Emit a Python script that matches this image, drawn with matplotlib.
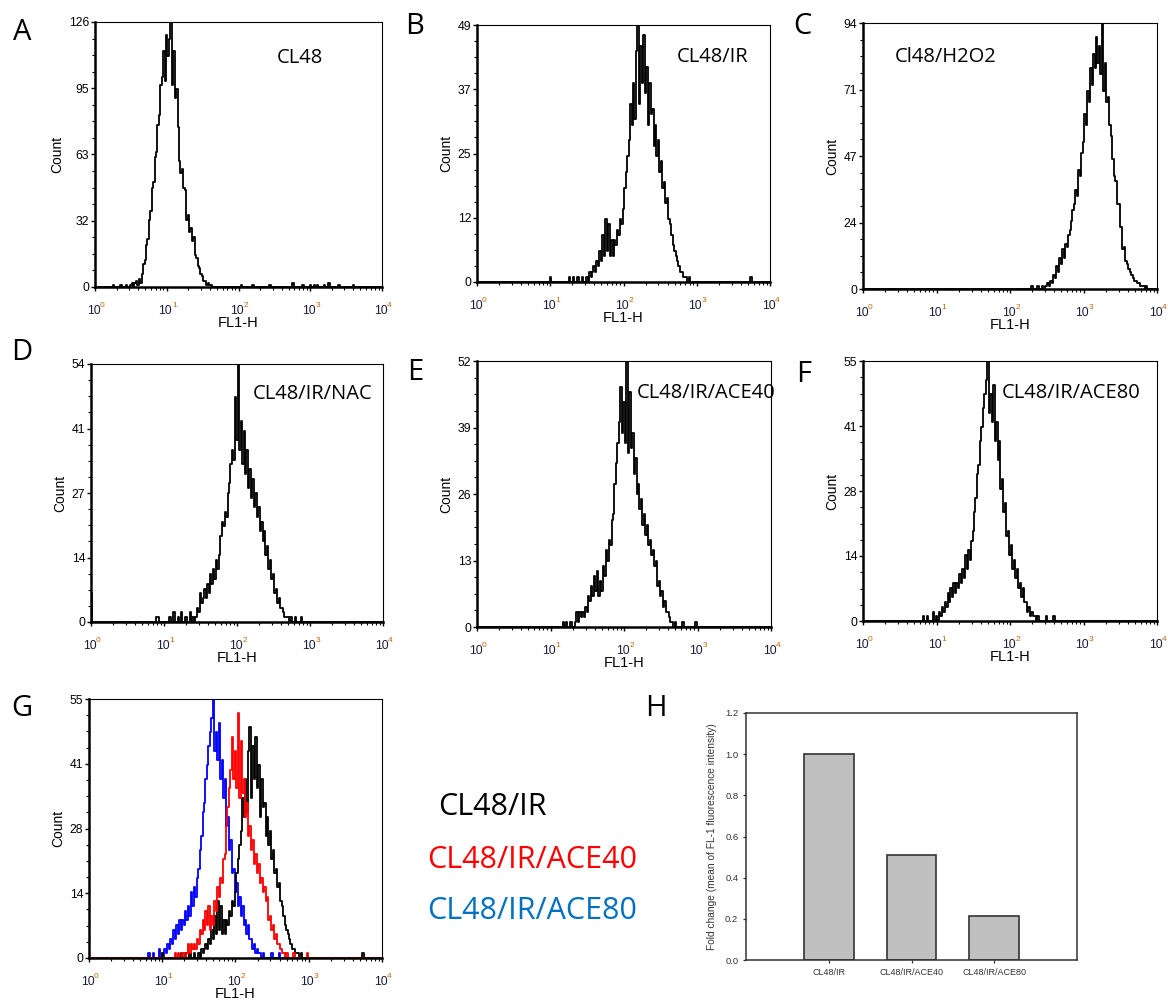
import numpy as np
import matplotlib
matplotlib.use("Agg")
import matplotlib.pyplot as plt
from matplotlib.ticker import MultipleLocator, LogLocator, NullFormatter

# ---------------- data ----------------
STEP = 0.02  # channel width in decades of FL1-H

A_start = 0.50
A_counts = [1, 2, 0, 2, 3, 1, 4, 2, 6, 11, 13, 20, 23, 32, 36, 47, 50, 62, 64, 77,
            82, 96, 100, 112, 98, 120, 110, 118, 126, 96, 112, 90, 94, 76, 60, 54, 56, 47, 46, 32,
            34, 26, 28, 22, 24, 15, 14, 10, 9, 6, 5, 3, 3, 1, 2, 1, 1, 0]
A_sp_pos = [0.26, 0.36, 0.44, 2.04, 2.2, 2.44, 2.76, 2.9, 3.0, 3.06, 3.1, 3.2, 3.26, 3.4, 3.6]
A_sp_n = [1, 1, 1, 1, 1, 1, 2, 1, 1, 1, 1, 1, 2, 1, 1]

B_start = 1.50
B_counts = [1, 0, 2, 1, 2, 3, 2, 4, 3, 6, 4, 9, 5, 12, 6, 11, 5, 8, 5, 8,
            7, 10, 9, 12, 11, 14, 18, 21, 24, 27, 34, 30, 38, 31, 44, 49, 34, 45, 38, 47,
            36, 41, 30, 38, 32, 33, 26, 30, 24, 27, 21, 23, 18, 19, 15, 16, 12, 11, 9, 7,
            6, 5, 4, 3, 2, 2, 1, 1, 1, 0, 1]
B_sp_pos = [1.0, 1.26, 1.32, 1.38, 1.44, 3.74]
B_sp_n = [1, 1, 1, 1, 1, 1]

C_start = 2.44
C_counts = [1, 0, 1, 1, 2, 1, 3, 2, 5, 4, 8, 6, 11, 9, 14, 11, 16, 15, 19, 21,
            24, 28, 30, 35, 33, 42, 40, 48, 52, 62, 58, 70, 66, 78, 72, 83, 78, 89, 80, 86,
            76, 94, 70, 80, 66, 68, 58, 54, 46, 40, 38, 30, 30, 22, 22, 14, 15, 10, 9, 7,
            6, 5, 4, 3, 3, 2, 2, 1, 1, 1, 0, 1]
C_sp_pos = [2.3, 2.38]
C_sp_n = [1, 1]

D_start = 1.44
D_counts = [1, 3, 2, 6, 4, 5, 7, 5, 8, 6, 10, 8, 11, 9, 13, 11, 14, 18, 21, 20,
            23, 22, 27, 29, 33, 36, 34, 47, 38, 54, 36, 42, 33, 40, 31, 36, 28, 32, 26, 30,
            24, 27, 22, 24, 19, 21, 17, 19, 14, 16, 11, 13, 9, 10, 6, 7, 4, 5, 3, 3,
            2, 1, 1, 1, 0, 1]
D_sp_pos = [0.0, 0.9, 0.92, 1.08, 1.14, 1.2, 1.24, 1.3, 1.36, 1.4, 2.8, 2.88]
D_sp_n = [6, 1, 1, 1, 2, 1, 2, 1, 2, 1, 1, 1]

E_start = 1.34
E_counts = [1, 3, 1, 3, 2, 3, 2, 4, 3, 6, 5, 8, 6, 10, 7, 11, 6, 9, 7, 12,
            10, 15, 13, 17, 16, 21, 22, 28, 32, 36, 40, 47, 38, 44, 36, 52, 34, 46, 35, 38,
            30, 33, 26, 28, 23, 25, 20, 22, 18, 20, 16, 17, 14, 15, 12, 13, 8, 9, 6, 7,
            4, 5, 3, 3, 2, 1, 1, 0, 1]
E_sp_pos = [1.18, 1.22, 1.28, 2.8, 2.98]
E_sp_n = [1, 1, 1, 1, 1]

F_start = 1.00
F_counts = [1, 0, 2, 1, 3, 2, 4, 3, 6, 4, 7, 5, 8, 6, 8, 7, 10, 8, 11, 9,
            14, 11, 15, 13, 17, 19, 23, 26, 31, 33, 38, 41, 45, 48, 51, 55, 44, 48, 42, 50,
            38, 42, 34, 38, 28, 30, 23, 25, 18, 19, 14, 16, 11, 13, 9, 11, 7, 8, 5, 7,
            4, 4, 2, 3, 1, 2, 1, 1, 0, 1]
F_sp_pos = [0.82, 0.88, 0.96, 2.5, 2.6]
F_sp_n = [1, 1, 2, 1, 1]

A_yt = ["0", "32", "63", "95", "126"]
B_yt = ["0", "12", "25", "37", "49"]
C_yt = ["0", "24", "47", "71", "94"]
D_yt = ["0", "14", "27", "41", "54"]
E_yt = ["0", "13", "26", "39", "52"]
F_yt = ["0", "14", "28", "41", "55"]
G_yt = ["0", "14", "28", "41", "55"]
A_ymax, B_ymax, C_ymax, D_ymax, E_ymax, F_ymax, G_ymax = 126, 49, 94, 54, 52, 55, 55

H_cats = ["CL48/IR", "CL48/IR/ACE40", "CL48/IR/ACE80"]
H_vals = [1.0, 0.51, 0.215]

legend_names = ["CL48/IR", "CL48/IR/ACE40", "CL48/IR/ACE80"]
panel_titles = ["CL48", "CL48/IR", "Cl48/H2O2", "CL48/IR/NAC", "CL48/IR/ACE40", "CL48/IR/ACE80"]

# ---------------- figure ----------------
W, H = 1168, 1006
fig = plt.figure(figsize=(W / 100, H / 100), dpi=100)
fig.patch.set_facecolor("white")

TXT = "Open Sans"
NUM = "Liberation Sans"
LW = 1.3


def rect(l, t, r, b):
    return [l / W, 1 - b / H, (r - l) / W, (b - t) / H]


def build(start, counts, sp_pos, sp_n):
    grid = np.round(np.arange(0, 4.0 + 1e-9, STEP), 2)
    y = np.zeros_like(grid)
    i0 = int(round(start / STEP))
    y[i0:i0 + len(counts)] = counts
    for p, n in zip(sp_pos, sp_n):
        y[int(round(p / STEP))] += n
    return 10 ** grid, y


def facs_axes(box, ymax, ylabels):
    ax = fig.add_axes(rect(*box))
    ax.set_xscale("log")
    ax.set_xlim(1, 1e4)
    ax.set_ylim(0, ymax)
    ax.set_yticks([ymax * i / 4 for i in range(5)])
    ax.set_yticklabels(ylabels, fontsize=8.8, family=NUM)
    ax.yaxis.set_minor_locator(MultipleLocator(ymax / 16))
    ax.set_xticks([1, 10, 100, 1000, 10000])
    ax.set_xticklabels([])
    ax.xaxis.set_minor_locator(LogLocator(base=10, subs=np.arange(2, 10)))
    ax.xaxis.set_minor_formatter(NullFormatter())
    ax.tick_params(axis="both", which="major", direction="out", length=3.2, width=1.0, pad=1)
    ax.tick_params(axis="both", which="minor", direction="out", length=2.2, width=0.8)
    for s in ["left", "bottom"]:
        ax.spines[s].set_linewidth(1.8)
    for s in ["top", "right"]:
        ax.spines[s].set_linewidth(0.8)
    ax.set_ylabel("Count", fontsize=10, family=NUM, labelpad=3)
    for k in range(5):
        ax.annotate("10", xy=(10 ** k, 0), xycoords=("data", "axes fraction"),
                    xytext=(-1, -17), textcoords="offset points", ha="center", va="center",
                    fontsize=8.8, family=NUM, color="#1c1c3c", annotation_clip=False)
        ax.annotate(str(k), xy=(10 ** k, 0), xycoords=("data", "axes fraction"),
                    xytext=(5.4, -13), textcoords="offset points", ha="center", va="center",
                    fontsize=6, family=NUM, color="#c8650f", annotation_clip=False)
    ax.annotate("FL1-H", xy=(0.5, 0), xycoords="axes fraction", xytext=(0, -26),
                textcoords="offset points", ha="center", va="center", fontsize=10.5,
                family=NUM, annotation_clip=False)
    return ax


hists = {
    "A": build(A_start, A_counts, A_sp_pos, A_sp_n),
    "B": build(B_start, B_counts, B_sp_pos, B_sp_n),
    "C": build(C_start, C_counts, C_sp_pos, C_sp_n),
    "D": build(D_start, D_counts, D_sp_pos, D_sp_n),
    "E": build(E_start, E_counts, E_sp_pos, E_sp_n),
    "F": build(F_start, F_counts, F_sp_pos, F_sp_n),
}

panels = [
    ("A", (95, 22, 382, 287), A_ymax, A_yt, (277, 58)),
    ("B", (477, 25, 770, 282), B_ymax, B_yt, (677, 57)),
    ("C", (863, 23, 1157, 289), C_ymax, C_yt, (895, 57)),
    ("D", (91, 364, 383, 622), D_ymax, D_yt, (253, 394)),
    ("E", (477, 361, 771, 627), E_ymax, E_yt, (637, 393)),
    ("F", (863, 361, 1157, 621), F_ymax, F_yt, (1002, 393)),
]
for (key, box, ymax, ylab, tpos), title in zip(panels, panel_titles):
    ax = facs_axes(box, ymax, ylab)
    x, y = hists[key]
    ax.plot(x, y, drawstyle="steps-mid", color="black", lw=LW)
    fig.text(tpos[0] / W, 1 - tpos[1] / H, title, fontsize=14.5, family=TXT,
             ha="left", va="center")

# G overlay
axg = facs_axes((89, 699, 382, 958), G_ymax, G_yt)
xg, yg = hists["F"]
axg.plot(xg, yg, drawstyle="steps-mid", color="#0000ff", lw=LW)
xg, yg = hists["B"]
axg.plot(xg, yg, drawstyle="steps-mid", color="black", lw=LW)
xg, yg = hists["E"]
axg.plot(xg, yg, drawstyle="steps-mid", color="#ff0000", lw=LW)

# legend texts
for name, col, (lx, ly) in zip(legend_names, ["black", "#ff0000", "#0070c0"],
                               [(438, 807), (427, 860), (427, 911)]):
    fig.text(lx / W, 1 - ly / H, name, fontsize=22, family=TXT, color=col,
             ha="left", va="center")

# H bar chart
axh = fig.add_axes(rect(746, 713, 1077, 960))
axh.bar(range(len(H_vals)), H_vals, width=0.6, color="#c0c0c0", edgecolor="#333333", lw=1.2)
axh.set_xlim(-1, 3)
axh.set_ylim(0, 1.2)
axh.set_yticks(np.arange(0, 1.21, 0.2))
axh.set_yticklabels([f"{v:.1f}" for v in np.arange(0, 1.21, 0.2)], fontsize=6.8,
                    family=NUM, color="#333333")
axh.set_xticks(range(len(H_cats)))
axh.set_xticklabels(H_cats, fontsize=6.5, family=NUM, color="#333333")
axh.tick_params(direction="out", length=2.5, width=0.9, pad=3, colors="#333333")
for s in axh.spines.values():
    s.set_linewidth(1.1)
    s.set_color("#333333")
axh.set_ylabel("Fold change (mean of FL-1 fluorescence intensity)", fontsize=7.3,
               family=NUM, color="#333333", labelpad=6)

# panel letters
for lab, (lx, ly) in zip("ABCDEFGH", [(22, 32), (415, 26), (802, 26), (22, 352),
                                       (415, 372), (804, 375), (22, 708), (656, 708)]):
    fig.text(lx / W, 1 - ly / H, lab, fontsize=21, family=TXT, ha="center", va="center")

fig.savefig("out.png", dpi=100, facecolor="white")
